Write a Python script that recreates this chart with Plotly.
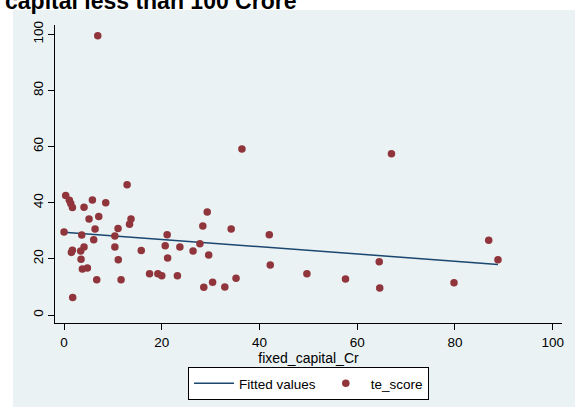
import numpy as np
import plotly.graph_objects as go

fixed_capital_Cr = [6.9, 36.4, 67.0, 12.9, 0.34, 1.09, 1.37, 1.71, 4.09, 5.80, 8.53,
                    5.12, 7.10, 6.35, 11.05, 13.7, 13.4, 0.0, 3.62, 6.07, 10.4, 10.4,
                    4.09, 3.41, 1.71, 1.50, 3.48, 11.1, 3.75, 4.78, 6.69, 11.67, 1.77,
                    15.8, 21.1, 20.7, 21.2, 23.7, 26.4, 27.8, 28.4, 29.3, 29.6, 17.5,
                    19.2, 20.0, 23.2, 28.6, 30.4, 32.9, 34.2, 35.2, 42.0, 42.2, 49.7,
                    57.6, 64.5, 64.6, 79.8, 86.9, 88.8]
te_score = [99.5, 59.1, 57.4, 46.4, 42.6, 40.9, 39.7, 38.3, 38.4, 41.0, 40.0,
            34.2, 35.1, 30.6, 30.8, 34.2, 32.3, 29.6, 28.5, 26.8, 28.1, 24.2,
            24.2, 22.8, 23.1, 22.3, 19.9, 19.7, 16.4, 16.7, 12.6, 12.6, 6.2,
            23.0, 28.6, 24.7, 20.3, 24.2, 22.8, 25.4, 31.7, 36.7, 21.4, 14.7,
            14.7, 14.0, 14.0, 9.9, 11.7, 10.0, 30.6, 13.1, 28.6, 17.8, 14.7,
            12.8, 19.0, 9.6, 11.5, 26.6, 19.7]
tick_vals = [0, 20, 40, 60, 80, 100]
title_text = "capital less than 100 Crore"

x = np.array(fixed_capital_Cr)
y = np.array(te_score)
slope, intercept = np.polyfit(x, y, 1)
fx = np.array([x.min(), x.max()])
fy = intercept + slope * fx

FONT = "Arial, Liberation Sans, sans-serif"
BLUE_BG = "#eaf2f3"

fig = go.Figure()
fig.add_trace(go.Scatter(x=fx, y=fy, mode="lines", name="Fitted values",
                         line=dict(color="#1a476f", width=1.5)))
fig.add_trace(go.Scatter(x=x, y=y, mode="markers", name="te_score",
                         marker=dict(color="#90353b", size=7.5, line=dict(width=0))))

W, H = 575, 407
L, R, T, B = 55, 13, 25, 84
pw, ph = W - L - R, H - T - B

def px_x(p):
    return (p - L) / pw

def px_y(p):
    return (H - B - p) / ph

fig.add_shape(type="rect", xref="paper", yref="paper",
              x0=px_x(13), x1=px_x(W + 2), y0=px_y(H + 2), y1=px_y(10),
              fillcolor=BLUE_BG, line=dict(width=0), layer="below")

fig.add_annotation(text="<b>" + title_text + "</b>", xref="paper", yref="paper",
                   x=px_x(3), y=px_y(16), xanchor="left", yanchor="bottom",
                   showarrow=False, font=dict(family=FONT, size=23, color="black"))

fig.update_layout(
    width=W, height=H,
    margin=dict(l=L, r=R, t=T, b=B, autoexpand=False),
    paper_bgcolor="white", plot_bgcolor="white",
    font=dict(family=FONT, size=13.5, color="black"),
    showlegend=True,
    legend=dict(orientation="h", x=0.5, xanchor="center", y=px_y(367), yanchor="top",
                bgcolor="white", bordercolor="black", borderwidth=1,
                font=dict(family=FONT, size=13.5), itemwidth=40),
    xaxis=dict(range=[-1.85, 101.9], tickvals=tick_vals, ticks="outside", ticklen=6,
               tickcolor="black", showline=True, linecolor="black", linewidth=1,
               showgrid=False, zeroline=False, ticklabelstandoff=1, automargin=False,
               title=dict(text="fixed_capital_Cr", standoff=0, font=dict(size=14))),
    yaxis=dict(range=[-2.85, 103.3], tickvals=tick_vals, ticks="outside", ticklen=6,
               tickcolor="black", showline=True, linecolor="black", linewidth=1,
               showgrid=True, gridcolor=BLUE_BG, gridwidth=1.5, zeroline=False,
               tickangle=-90, automargin=False),
)

fig.write_html("out.html", config={"displayModeBar": False},
               post_script="document.body.style.margin='0';document.body.style.overflow='hidden';")
